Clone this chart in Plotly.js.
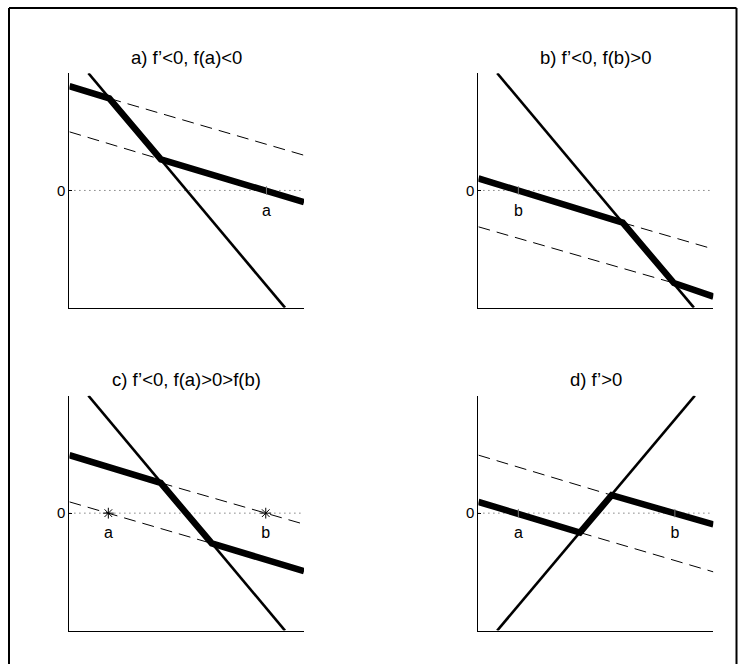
<!DOCTYPE html>
<html>
<head>
<meta charset="utf-8">
<script src="https://cdn.plot.ly/plotly-3.0.1.min.js"></script>
<style>
  html, body { margin: 0; padding: 0; background: #fff; }
  #chart { width: 745px; height: 664px; }
</style>
</head>
<body>
<div id="chart"></div>
<script>
// Panel titles
const titles = ["a) f\u2019<0, f(a)<0", "b) f\u2019<0, f(b)>0", "c) f\u2019<0, f(a)>0>f(b)", "d) f\u2019>0"];

// Panel a
const aThickX = [0, 0.17, 0.39, 1];
const aThickY = [0.89, 0.785, 0.265, -0.10];
const aSteepX = [0.081, 0.919];
const aSteepY = [1, -1];
const aDashUpX = [0.17, 1];
const aDashUpY = [0.785, 0.30];
const aDashLoX = [0, 0.39];
const aDashLoY = [0.50, 0.265];
const aPtsX = [0.84];
const aPtsText = ["a"];

// Panel b
const bThickX = [0, 0.614, 0.832, 1];
const bThickY = [0.103, -0.275, -0.79, -0.905];
const bSteepX = [0.080, 0.917];
const bSteepY = [1, -1];
const bDashUpX = [0.614, 1];
const bDashUpY = [-0.275, -0.50];
const bDashLoX = [0, 0.832];
const bDashLoY = [-0.31, -0.79];
const bPtsX = [0.17];
const bPtsText = ["b"];

// Panel c
const cThickX = [0, 0.389, 0.607, 1];
const cThickY = [0.494, 0.258, -0.258, -0.494];
const cSteepX = [0.081, 0.919];
const cSteepY = [1, -1];
const cDashUpX = [0.389, 1];
const cDashUpY = [0.258, -0.094];
const cDashLoX = [0, 0.607];
const cDashLoY = [0.096, -0.258];
const cPtsX = [0.166, 0.837];
const cPtsText = ["a", "b"];

// Panel d
const dThickX = [0, 0.432, 0.567, 1];
const dThickY = [0.096, -0.165, 0.153, -0.096];
const dSteepX = [0.080, 0.921];
const dSteepY = [-1, 1];
const dDashUpX = [0, 0.567];
const dDashUpY = [0.494, 0.153];
const dDashLoX = [0.432, 1];
const dDashLoY = [-0.165, -0.50];
const dPtsX = [0.17, 0.836];
const dPtsText = ["a", "b"];

const zeroX = [0, 1];
const zeroY = [0, 0];
const labelY = -0.18;

const FONT = "Liberation Sans, Arial, Helvetica, sans-serif";

const panels = [
  {thx: aThickX, thy: aThickY, sx: aSteepX, sy: aSteepY, dux: aDashUpX, duy: aDashUpY, dlx: aDashLoX, dly: aDashLoY, px: aPtsX, pt: aPtsText, star: false},
  {thx: bThickX, thy: bThickY, sx: bSteepX, sy: bSteepY, dux: bDashUpX, duy: bDashUpY, dlx: bDashLoX, dly: bDashLoY, px: bPtsX, pt: bPtsText, star: false},
  {thx: cThickX, thy: cThickY, sx: cSteepX, sy: cSteepY, dux: cDashUpX, duy: cDashUpY, dlx: cDashLoX, dly: cDashLoY, px: cPtsX, pt: cPtsText, star: true},
  {thx: dThickX, thy: dThickY, sx: dSteepX, sy: dSteepY, dux: dDashUpX, duy: dDashUpY, dlx: dDashLoX, dly: dDashLoY, px: dPtsX, pt: dPtsText, star: false}
];

// axes boxes in page pixels (left, right, top, bottom)
const W = 745, H = 664;
const boxes = [
  [69.4, 304.0, 73.2, 307.7],
  [478.4, 713.4, 73.2, 307.7],
  [69.4, 304.0, 395.7, 630.6],
  [478.4, 713.4, 395.7, 630.6]
];

const traces = [];
const layout = {
  width: W, height: H,
  margin: {l: 0, r: 0, t: 0, b: 0},
  paper_bgcolor: "#fff", plot_bgcolor: "#fff",
  showlegend: false,
  font: {family: FONT, size: 15, color: "#000"},
  annotations: [],
  shapes: [
    // figure frame
    {type: "line", xref: "paper", yref: "paper", x0: 9 / W, x1: 736.5 / W, y0: 1 - 8 / H, y1: 1 - 8 / H, line: {color: "#000", width: 2}},
    {type: "line", xref: "paper", yref: "paper", x0: 9 / W, x1: 9 / W, y0: 1 - 8 / H, y1: 0, line: {color: "#000", width: 2}},
    {type: "line", xref: "paper", yref: "paper", x0: 736.5 / W, x1: 736.5 / W, y0: 1 - 8 / H, y1: 0, line: {color: "#000", width: 2}}
  ]
};

panels.forEach((p, i) => {
  const n = i === 0 ? "" : String(i + 1);
  const xa = "x" + n, ya = "y" + n;
  const b = boxes[i];
  layout["xaxis" + n] = {
    domain: [b[0] / W, b[1] / W], range: [0, 1], anchor: ya,
    showline: true, linecolor: "#000", linewidth: 1, mirror: false,
    showgrid: false, zeroline: false, showticklabels: false, ticks: "", fixedrange: true
  };
  layout["yaxis" + n] = {
    domain: [1 - b[3] / H, 1 - b[2] / H], range: [-1, 1], anchor: xa,
    showline: true, linecolor: "#000", linewidth: 1,
    showgrid: false, zeroline: false,
    tickvals: [0], ticktext: ["0"], ticks: "inside", ticklen: 3, tickcolor: "#000",
    tickfont: {family: FONT, size: 15, color: "#000"}, fixedrange: true
  };
  layout.annotations.push({
    xref: "paper", yref: "paper",
    x: (b[0] + b[1]) / 2 / W, y: 1 - (b[2] - 16) / H,
    xanchor: "center", yanchor: "middle", showarrow: false,
    text: titles[i], font: {family: FONT, size: 18.5, color: "#000"}
  });

  // dotted zero line
  traces.push({x: zeroX, y: zeroY, xaxis: xa, yaxis: ya, mode: "lines",
    line: {color: "#444", width: 1, dash: "1px,4px"}, hoverinfo: "skip"});
  // dashed parallel lines
  traces.push({x: p.dux, y: p.duy, xaxis: xa, yaxis: ya, mode: "lines",
    line: {color: "#000", width: 1, dash: "12px,7px"}, hoverinfo: "skip"});
  traces.push({x: p.dlx, y: p.dly, xaxis: xa, yaxis: ya, mode: "lines",
    line: {color: "#000", width: 1, dash: "12px,7px"}, hoverinfo: "skip"});
  // steep solid line
  traces.push({x: p.sx, y: p.sy, xaxis: xa, yaxis: ya, mode: "lines",
    line: {color: "#000", width: 2.6}, hoverinfo: "skip"});
  // thick piecewise line
  traces.push({x: p.thx, y: p.thy, xaxis: xa, yaxis: ya, mode: "lines",
    line: {color: "#000", width: 6.5}, hoverinfo: "skip"});
  // points on the zero line
  traces.push({x: p.px, y: p.px.map(() => 0), xaxis: xa, yaxis: ya, mode: "markers",
    marker: p.star
      ? {symbol: "asterisk-open", size: 9, color: "#000", line: {color: "#000", width: 1}}
      : {symbol: "line-ns-open", size: 6, color: "#777", line: {color: "#777", width: 1}},
    cliponaxis: false, hoverinfo: "skip"});
  // point labels
  traces.push({x: p.px, y: p.px.map(() => labelY), xaxis: xa, yaxis: ya, mode: "text",
    text: p.pt, textposition: "middle center",
    textfont: {family: FONT, size: 16, color: "#000"}, hoverinfo: "skip"});
});

Plotly.newPlot("chart", traces, layout, {staticPlot: true, displayModeBar: false});
</script>
</body>
</html>
